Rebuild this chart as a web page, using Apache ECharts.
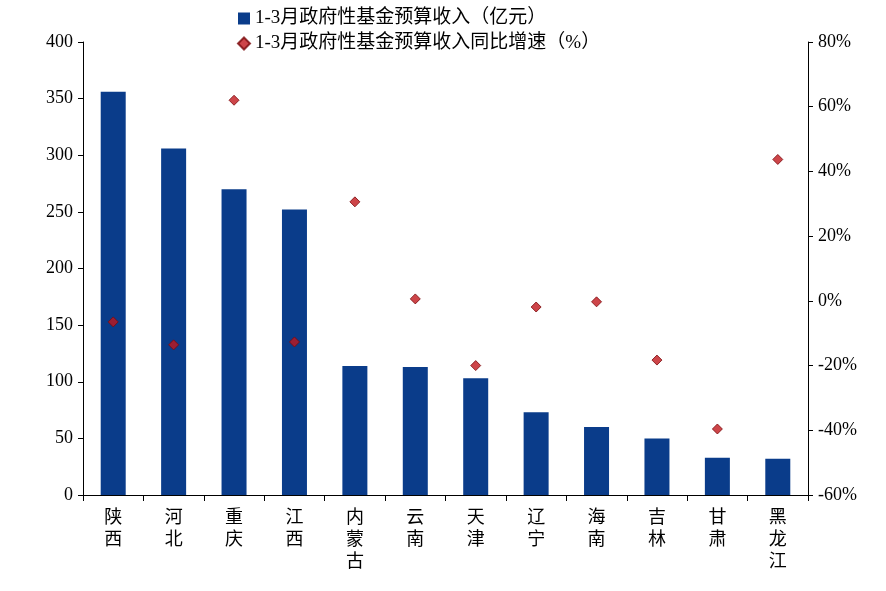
<!DOCTYPE html><html><head><meta charset="utf-8"><script src="https://cdn.jsdelivr.net/npm/echarts@6/dist/echarts.min.js"></script></head><body style="margin:0;background:#fff"><div id="c" style="width:886px;height:591px"></div><script>
const categories=['陕西','河北','重庆','江西','内蒙古','云南','天津','辽宁','海南','吉林','甘肃','黑龙江'];
const revenue=[356,306,270,252,114,113,103,73,60,50,33,32];
const growth=[-6.5,-13.6,62,-12.7,30.6,0.6,-20,-1.9,-0.3,-18.3,-39.6,43.7];
const F='"Liberation Serif","Noto Sans CJK SC",serif';
const ch=echarts.init(document.getElementById('c'));
ch.setOption({animation:false,textStyle:{fontFamily:F,color:'#000'},
legend:{orient:'vertical',left:232,top:4,itemGap:6,itemWidth:12,itemHeight:12,textStyle:{fontSize:19,fontFamily:F,color:'#000'},
 data:[{name:'1-3月政府性基金预算收入（亿元）',icon:'rect'},{name:'1-3月政府性基金预算收入同比增速（%）',icon:'diamond'}]},
grid:{left:83,right:78,top:42,bottom:96},
xAxis:{type:'category',data:categories,axisLine:{lineStyle:{color:'#000'}},axisTick:{show:true,length:6,lineStyle:{color:'#000'}},
 axisLabel:{fontSize:18,color:'#000',lineHeight:22,margin:12,formatter:v=>v.split('').join('\n')}},
yAxis:[{type:'value',min:0,max:400,interval:50,splitLine:{show:false},axisLine:{show:true,lineStyle:{color:'#000'}},axisTick:{show:true,lineStyle:{color:'#000'}},axisLabel:{fontSize:18,color:'#000',margin:10}},
 {type:'value',min:-60,max:80,interval:20,splitLine:{show:false},axisLine:{show:true,lineStyle:{color:'#000'}},axisTick:{show:true,lineStyle:{color:'#000'}},axisLabel:{fontSize:18,color:'#000',margin:10,formatter:'{value}%'}}],
series:[{name:'1-3月政府性基金预算收入（亿元）',type:'bar',data:revenue,barWidth:25,itemStyle:{color:'#0a3c8a'}},
 {name:'1-3月政府性基金预算收入同比增速（%）',type:'scatter',yAxisIndex:1,data:growth,symbol:'diamond',symbolSize:10,itemStyle:{color:'#c0161b',borderColor:'#7a0a0d',borderWidth:1}}]});
</script></body></html>
